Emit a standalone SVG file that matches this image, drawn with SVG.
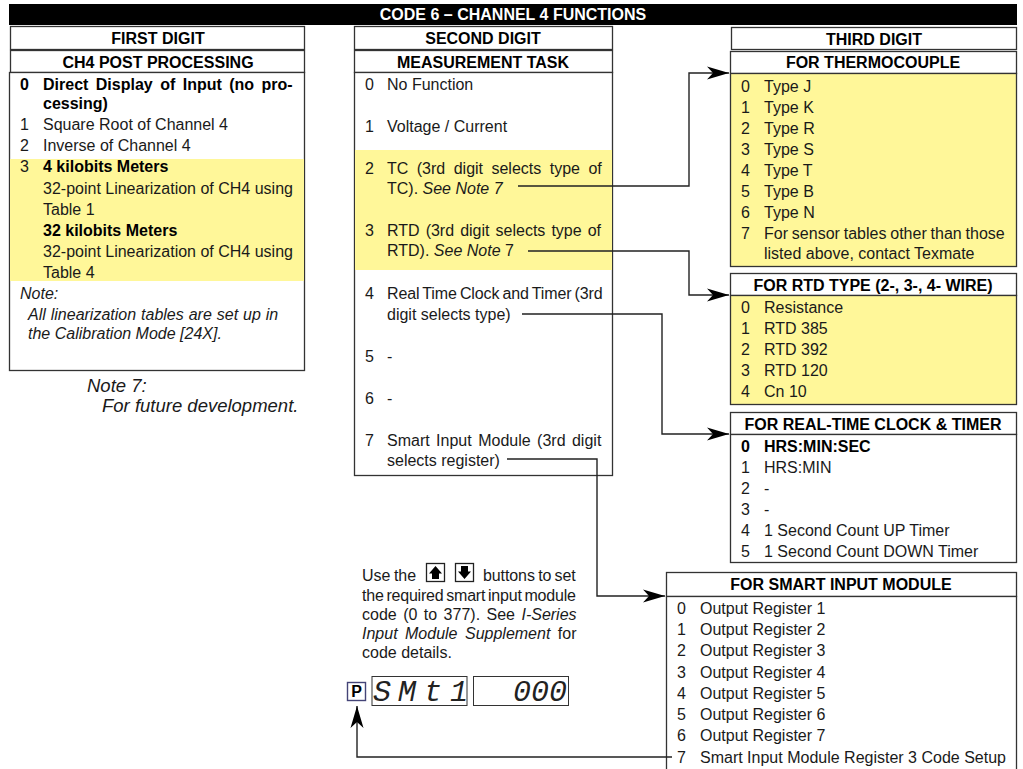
<svg xmlns="http://www.w3.org/2000/svg" width="1023" height="769" viewBox="0 0 1023 769">
<style>
text{font-family:"Liberation Sans",Arial,sans-serif;font-size:16px;fill:#1a1a1a}
.b{font-weight:bold;fill:#000}
.h{font-weight:bold;fill:#000;text-anchor:middle}
.i{font-style:italic}
.n{font-size:18.5px}
.box{fill:#fff;stroke:#333;stroke-width:1.3}
.y{fill:#fff799;stroke:none}
.o{fill:none;stroke:#333;stroke-width:1.3}
.c{fill:none;stroke:#222;stroke-width:1.4}
.seg{font-family:"Liberation Mono",monospace;font-style:italic;font-size:30px;fill:#222}
.btn{fill:#fff;stroke:#222;stroke-width:1.3}
.dsp{fill:#fff;stroke:#333;stroke-width:1}
</style>
<defs>
<marker id="a" markerUnits="userSpaceOnUse" markerWidth="24" markerHeight="14" refX="22" refY="7" orient="auto"><path d="M0 0.500L22 7L0 13.500L6 7Z" fill="#000"/></marker>
</defs>
<rect width="1023" height="769" fill="#fff"/>
<g id="title"><rect x="9" y="4" width="1008" height="21" fill="#000"/><text x="513" y="20" class="h" style="fill:#fff">CODE 6 – CHANNEL 4 FUNCTIONS</text></g>

<g id="first-digit">
<rect class="box" x="10.500" y="26.500" width="294" height="23"/>
<text x="158" y="44" class="h">FIRST DIGIT</text>
<rect class="box" x="10.500" y="50.500" width="294" height="22"/>
<text x="158" y="68" class="h">CH4 POST PROCESSING</text>
<rect class="box" x="9.500" y="72.500" width="295" height="298"/>
<rect class="y" x="10" y="159" width="294" height="122"/>
<text x="20" y="90" class="b">0</text><text x="43" y="90" class="b" word-spacing="3">Direct Display of Input (no pro-</text>
<text x="43" y="109" class="b">cessing)</text>
<text x="20" y="130">1</text><text x="43" y="130">Square Root of Channel 4</text>
<text x="20" y="151">2</text><text x="43" y="151">Inverse of Channel 4</text>
<text x="20" y="172">3</text><text x="43" y="172" class="b">4 kilobits Meters</text>
<text x="43" y="194">32-point Linearization of CH4 using</text>
<text x="43" y="215">Table 1</text>
<text x="43" y="236" class="b">32 kilobits Meters</text>
<text x="43" y="257">32-point Linearization of CH4 using</text>
<text x="43" y="278">Table 4</text>
<text x="20" y="299" class="i">Note:</text>
<text x="28" y="320" class="i" word-spacing="0.500">All linearization tables are set up in</text>
<text x="28" y="339" class="i">the Calibration Mode [24X].</text>
</g>

<g id="note-7"><text x="87" y="392" class="i n">Note 7:</text><text x="102" y="412" class="i n">For future development.</text></g>

<g id="second-digit">
<rect class="box" x="354.500" y="26.500" width="258" height="23"/>
<text x="483" y="44" class="h">SECOND DIGIT</text>
<rect class="box" x="354.500" y="50.500" width="258" height="22"/>
<text x="483" y="68" class="h">MEASUREMENT TASK</text>
<rect class="box" x="354.500" y="72.500" width="258" height="403"/>
<rect class="y" x="355" y="150" width="257" height="120"/>
<text x="365" y="90">0</text><text x="387" y="90">No Function</text>
<text x="365" y="132">1</text><text x="387" y="132">Voltage / Current</text>
<text x="365" y="174">2</text><text x="387" y="174" word-spacing="4">TC (3rd digit selects type of</text>
<text x="387" y="194">TC). <tspan class="i">See Note 7</tspan></text>
<text x="365" y="236">3</text><text x="387" y="236" word-spacing="1.600">RTD (3rd digit selects type of</text>
<text x="387" y="256">RTD). <tspan class="i">See Note</tspan> 7</text>
<text x="365" y="299">4</text><text x="387" y="299" word-spacing="-1" letter-spacing="-0.150">Real Time Clock and Timer (3rd</text>
<text x="387" y="320">digit selects type)</text>
<text x="365" y="362">5</text><text x="387" y="362">-</text>
<text x="365" y="404">6</text><text x="387" y="404">-</text>
<text x="365" y="446">7</text><text x="387" y="446" word-spacing="2">Smart Input Module (3rd digit</text>
<text x="387" y="466">selects register)</text>
</g>

<g id="third-digit">
<rect class="box" x="731.500" y="27.500" width="285" height="22"/>
<text x="874" y="45" class="h">THIRD DIGIT</text>
</g>

<g id="thermocouple">
<rect class="box" x="730.500" y="51.500" width="286" height="22"/>
<text x="873" y="68" class="h">FOR THERMOCOUPLE</text>
<rect class="y" x="731" y="73.500" width="285" height="193"/>
<rect class="o" x="730.500" y="73.500" width="286" height="193"/>
<text x="741" y="92">0</text><text x="764" y="92">Type J</text>
<text x="741" y="113">1</text><text x="764" y="113">Type K</text>
<text x="741" y="134">2</text><text x="764" y="134">Type R</text>
<text x="741" y="155">3</text><text x="764" y="155">Type S</text>
<text x="741" y="176">4</text><text x="764" y="176">Type T</text>
<text x="741" y="197">5</text><text x="764" y="197">Type B</text>
<text x="741" y="218">6</text><text x="764" y="218">Type N</text>
<text x="741" y="239">7</text><text x="764" y="239" word-spacing="-0.600">For sensor tables other than those</text>
<text x="764" y="259">listed above, contact Texmate</text>
</g>

<g id="rtd">
<rect class="box" x="730.500" y="273.500" width="286" height="22"/>
<text x="873" y="291" class="h">FOR RTD TYPE (2-, 3-, 4- WIRE)</text>
<rect class="y" x="731" y="295.500" width="285" height="109"/>
<rect class="o" x="730.500" y="295.500" width="286" height="109"/>
<text x="741" y="313">0</text><text x="764" y="313">Resistance</text>
<text x="741" y="334">1</text><text x="764" y="334">RTD 385</text>
<text x="741" y="355">2</text><text x="764" y="355">RTD 392</text>
<text x="741" y="376">3</text><text x="764" y="376">RTD 120</text>
<text x="741" y="397">4</text><text x="764" y="397">Cn 10</text>
</g>

<g id="rtc">
<rect class="box" x="730.500" y="412.500" width="286" height="22"/>
<text x="873" y="430" class="h">FOR REAL-TIME CLOCK &amp; TIMER</text>
<rect class="box" x="730.500" y="434.500" width="286" height="128"/>
<text x="741" y="452" class="b">0</text><text x="764" y="452" class="b">HRS:MIN:SEC</text>
<text x="741" y="473">1</text><text x="764" y="473">HRS:MIN</text>
<text x="741" y="494">2</text><text x="764" y="494">-</text>
<text x="741" y="515">3</text><text x="764" y="515">-</text>
<text x="741" y="536">4</text><text x="764" y="536">1 Second Count UP Timer</text>
<text x="741" y="557">5</text><text x="764" y="557">1 Second Count DOWN Timer</text>
</g>

<g id="smart-input">
<rect class="box" x="666.500" y="572.500" width="350" height="24"/>
<text x="841" y="590" class="h">FOR SMART INPUT MODULE</text>
<rect class="box" x="666.500" y="596.500" width="350" height="180"/>
<text x="677" y="614">0</text><text x="700" y="614">Output Register 1</text>
<text x="677" y="635">1</text><text x="700" y="635">Output Register 2</text>
<text x="677" y="656">2</text><text x="700" y="656">Output Register 3</text>
<text x="677" y="678">3</text><text x="700" y="678">Output Register 4</text>
<text x="677" y="699">4</text><text x="700" y="699">Output Register 5</text>
<text x="677" y="720">5</text><text x="700" y="720">Output Register 6</text>
<text x="677" y="741">6</text><text x="700" y="741">Output Register 7</text>
<text x="677" y="763">7</text><text x="700" y="763">Smart Input Module Register 3 Code Setup</text>
</g>

<g id="instructions">
<text x="362" y="581" word-spacing="-1">Use the</text><text x="483" y="581" word-spacing="-1" letter-spacing="-0.100">buttons to set</text>
<text x="362" y="601" word-spacing="-1.500" letter-spacing="-0.200">the required smart input module</text>
<text x="362" y="620" word-spacing="2">code (0 to 377). See <tspan class="i">I-Series</tspan></text>
<text x="362" y="639" word-spacing="3"><tspan class="i">Input Module Supplement</tspan> for</text>
<text x="362" y="658">code details.</text>
<g id="btn-up"><rect class="btn" x="426.500" y="563.500" width="18" height="18"/><path d="M435.500 566L442 573.500H439V579H432V573.500H429Z" fill="#000"/></g>
<g id="btn-down"><rect class="btn" x="455.500" y="563.500" width="18" height="18"/><path d="M464.500 579L458 571.500H461V566H468V571.500H471Z" fill="#000"/></g>
</g>

<g id="display">
<g id="btn-p"><rect x="347.500" y="682.500" width="18" height="18" fill="#fff" stroke="#447" stroke-width="1.400"/><text x="356.500" y="697" class="h">P</text></g>
<rect class="dsp" x="372" y="676.500" width="95" height="29"/>
<text class="seg" x="373 398 424 442 450" y="701">SMt 1</text>
<rect class="dsp" x="473.500" y="676.500" width="95" height="29"/>
<text class="seg" x="513" y="701">000</text>
</g>

<g id="connectors">
<path class="c" d="M518 186H689V73H729" marker-end="url(#a)"/>
<path class="c" d="M528 251H689V295H729" marker-end="url(#a)"/>
<path class="c" d="M522 314H662V434H729" marker-end="url(#a)"/>
<path class="c" d="M507 459H597V596H665" marker-end="url(#a)"/>
<path class="c" d="M672 757H357V706" marker-end="url(#a)"/>
</g>
</svg>
